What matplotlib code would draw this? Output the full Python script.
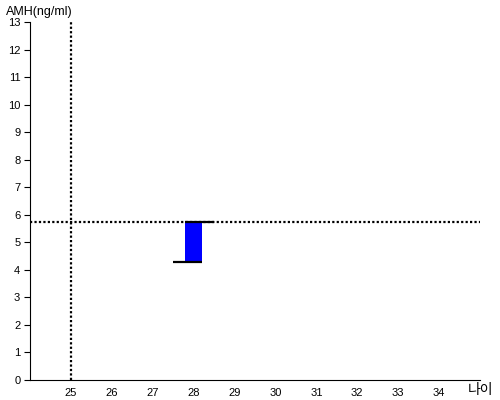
import matplotlib
matplotlib.use("Agg")
import matplotlib.pyplot as plt
from matplotlib.patches import Rectangle

ages = [28]
amh_low = [4.3]
amh_high = [5.72]
ref_age = 25
ref_amh = 5.72
xticks = list(range(25, 35))
yticks = list(range(0, 14))

plt.rcParams['font.family'] = ['Liberation Sans', 'Noto Sans CJK KR', 'DejaVu Sans']

fig = plt.figure(figsize=(5, 4), dpi=100)
ax = fig.add_axes([0.06, 0.05, 0.90, 0.895])
ax.set_xlim(24, 35)
ax.set_ylim(0, 13)

for a, lo, hi in zip(ages, amh_low, amh_high):
    ax.add_patch(Rectangle((a - 0.2, lo), 0.4, hi - lo, facecolor='#0000ff', edgecolor='none', zorder=3))
    ax.plot([a - 0.5, a + 0.2], [lo, lo], color='black', lw=1.6, solid_capstyle='butt', zorder=4)
    ax.plot([a - 0.2, a + 0.5], [hi, hi], color='black', lw=1.6, solid_capstyle='butt', zorder=4)

ax.axvline(ref_age, color='black', lw=1.6, linestyle=(0, (1, 1)), zorder=2)
ax.axhline(ref_amh, color='black', lw=1.6, linestyle=(0, (1, 1)), zorder=2)

ax.spines['top'].set_visible(False)
ax.spines['right'].set_visible(False)
ax.set_xticks(xticks)
ax.set_yticks(yticks)
ax.tick_params(axis='x', length=0, labelsize=8, pad=6)
ax.tick_params(axis='y', length=4, labelsize=8, pad=3)

fig.text(0.012, 0.985, 'AMH(ng/ml)', fontsize=9, va='top', ha='left')
fig.text(0.986, 0.008, '나이', fontsize=10, va='bottom', ha='right')

fig.savefig('out.png', dpi=100)
